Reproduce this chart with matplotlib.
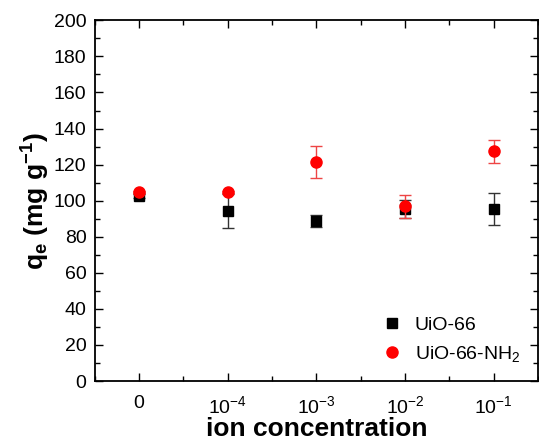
import matplotlib
matplotlib.use('Agg')
import matplotlib.pyplot as plt
from matplotlib.lines import Line2D
from matplotlib.ticker import MultipleLocator

plt.rcParams['font.family'] = ['Liberation Sans', 'DejaVu Sans']
plt.rcParams['mathtext.fontset'] = 'custom'
plt.rcParams['mathtext.rm'] = 'Liberation Sans'
plt.rcParams['mathtext.it'] = 'Liberation Sans'
plt.rcParams['mathtext.bf'] = 'Liberation Sans:bold'

# ---- data ---------------------------------------------------------- #
conc_labels = ['0', r'$10^{-4}$', r'$10^{-3}$', r'$10^{-2}$', r'$10^{-1}$']
uio66 = [102.5, 94.3, 88.9, 95.6, 95.4]
uio66_err = [1.0, 9.3, 3.3, 5.0, 9.0]
uio66_nh2 = [104.7, 104.9, 121.4, 96.8, 127.4]
uio66_nh2_err = [0.5, 0.5, 9.0, 6.2, 6.5]

x = list(range(len(conc_labels)))

fig = plt.figure(figsize=(5.39, 4.42), dpi=100)
ax = fig.add_axes([0.176, 0.138, 0.822, 0.816])

ax.errorbar(x, uio66, yerr=uio66_err, fmt='s', color='black', ms=7,
            ecolor='#333333', elinewidth=1, capsize=4, capthick=1, zorder=3)
ax.errorbar(x, uio66_nh2, yerr=uio66_nh2_err, fmt='o', color='red', ms=8,
            ecolor='#ee4444', elinewidth=1, capsize=4, capthick=1, zorder=4)

ax.set_xlim(-0.5, 4.5)
ax.set_ylim(0, 200)
ax.set_xticks(x)
ax.set_xticklabels(conc_labels)
ax.xaxis.set_minor_locator(MultipleLocator(0.5))
ax.yaxis.set_major_locator(MultipleLocator(20))
ax.yaxis.set_minor_locator(MultipleLocator(10))

ax.tick_params(which='both', direction='in', top=True, right=True,
               labelsize=14, width=1)
ax.tick_params(which='major', length=6, pad=6)
ax.tick_params(axis='x', which='major', pad=10)
ax.tick_params(which='minor', length=3.5)
for s in ax.spines.values():
    s.set_linewidth(1.3)

ax.set_xlabel('ion concentration', fontsize=19, fontweight='bold', labelpad=0)
ax.set_ylabel(r'$\mathbf{q_e}$ (mg g$^{\mathbf{-1}}$)', fontsize=19,
              fontweight='bold', labelpad=1)

# legend shows markers only, no error bars
handles = [
    Line2D([], [], ls='none', marker='s', color='black', ms=7),
    Line2D([], [], ls='none', marker='o', color='red', ms=8),
]
ax.legend(handles, ['UiO-66', 'UiO-66-NH$_2$'], loc='lower right',
          frameon=False, fontsize=14, handlelength=1.0, handletextpad=0.7,
          borderaxespad=0.5, labelspacing=0.5)

fig.savefig('out.png', dpi=100)
